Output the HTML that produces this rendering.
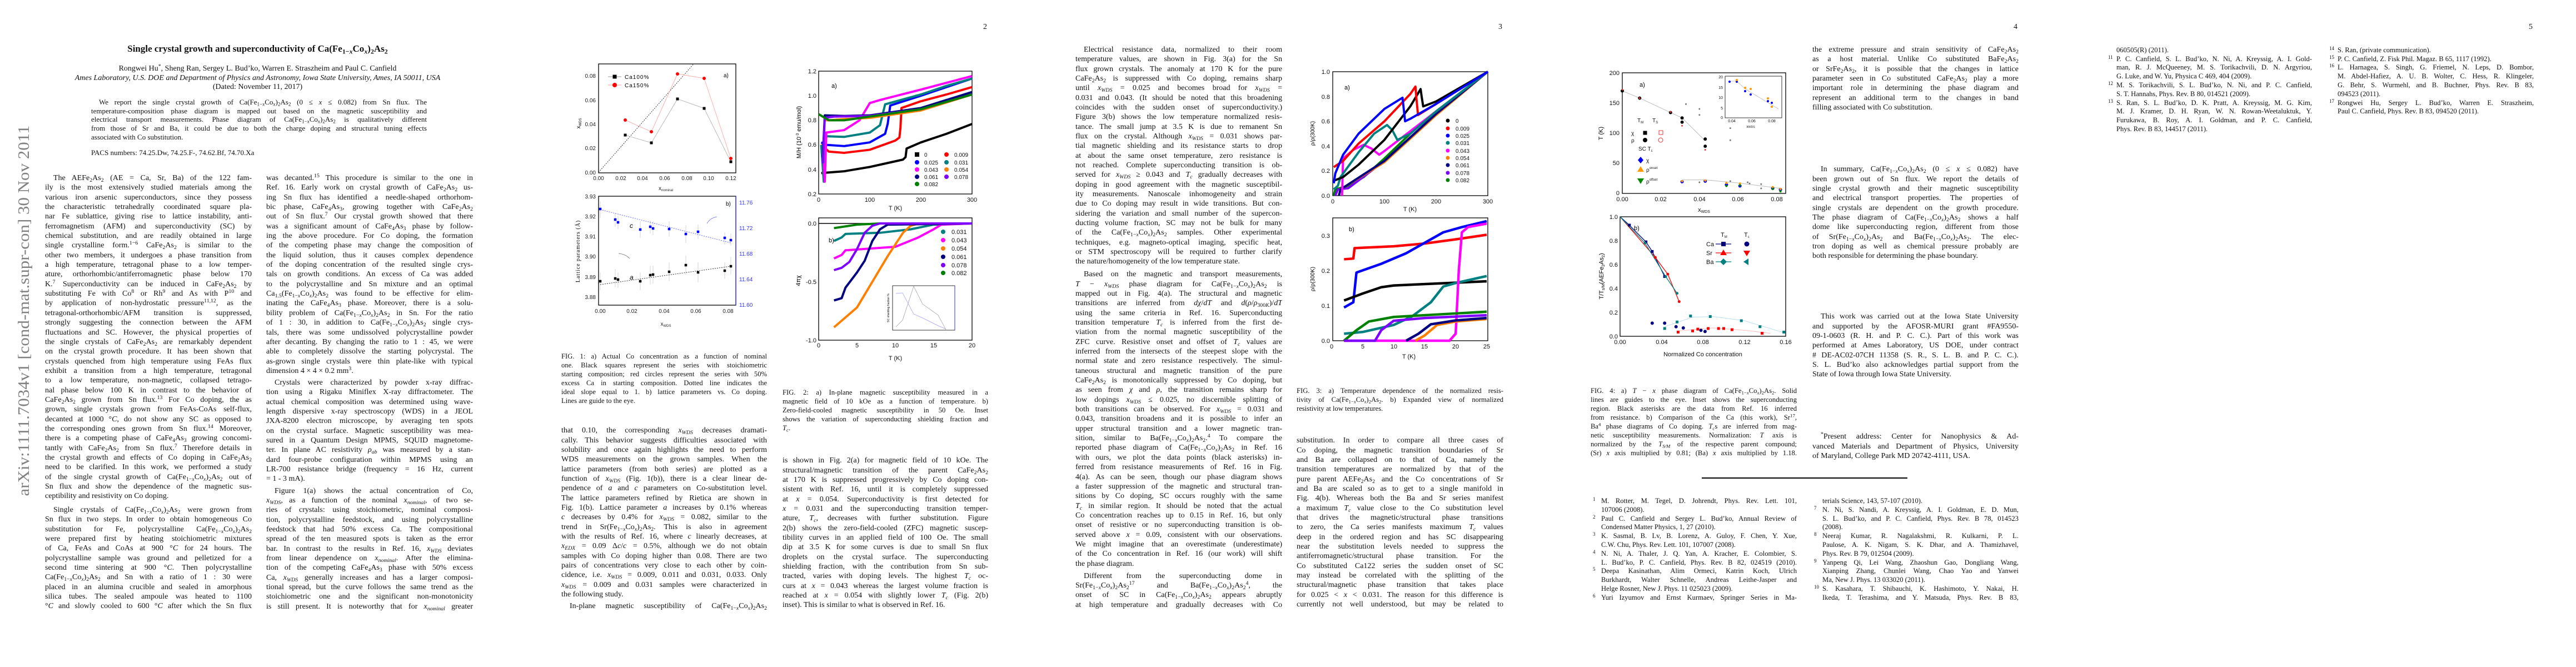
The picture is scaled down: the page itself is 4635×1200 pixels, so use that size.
<!DOCTYPE html>
<html><head><meta charset="utf-8">
<style>
html,body{margin:0;padding:0;background:#fff}
body{width:4635px;height:1200px;position:relative;overflow:hidden;font-family:"Liberation Serif",serif;color:#111}
.c{position:absolute;font-size:14px;line-height:17.35px}
.c div{height:17.35px;text-align:justify;text-align-last:justify;overflow:hidden;white-space:normal}
.c div.e{text-align-last:left}
.c div.i{text-indent:15px}
.cap{position:absolute;font-size:12.6px;line-height:16px}
.cap div{height:16px;text-align:justify;text-align-last:justify;overflow:hidden}
.cap div.e{text-align-last:left}
.ref{position:absolute;font-size:12.6px;line-height:15.8px}
.ref div{height:15.8px;text-align:justify;text-align-last:justify;position:relative;overflow:visible}
.ref div.e{text-align-last:left}
.ref .n{position:absolute;left:-15px;top:-3px;font-size:9px}
sub{font-size:70%;vertical-align:-0.3em;line-height:0}
sup{font-size:70%;vertical-align:0.5em;line-height:0}
.ctr{position:absolute;left:0;width:927px;text-align:center;white-space:nowrap}
.pn{position:absolute;font-size:14px}
svg{position:absolute;left:0;top:0}
svg text{font-family:"Liberation Sans",sans-serif}
</style></head><body>

<svg width="4635" height="1200" viewBox="0 0 4635 1200">
<!-- arXiv stamp -->
<text transform="translate(52,559) rotate(-90)" text-anchor="middle" textLength="667" lengthAdjust="spacingAndGlyphs" font-size="28" fill="#808080" style="font-family:'Liberation Serif',serif">arXiv:1111.7034v1  [cond-mat.supr-con]  30 Nov 2011</text>

<!-- ===== FIG 1a ===== -->
<rect x="1077" y="115" width="247" height="196" fill="none" stroke="#000" stroke-width="1.3"/>
<g font-size="10" text-anchor="end" fill="#222">
<text x="1072" y="140">0.08</text><text x="1072" y="184">0.06</text><text x="1072" y="227">0.04</text><text x="1072" y="270">0.02</text><text x="1072" y="314">0.00</text>
</g>
<g font-size="10" text-anchor="middle" fill="#222">
<text x="1077" y="324">0.00</text><text x="1117" y="324">0.02</text><text x="1156" y="324">0.04</text><text x="1196" y="324">0.06</text><text x="1236" y="324">0.08</text><text x="1275" y="324">0.10</text><text x="1315" y="324">0.12</text>
<text x="1198" y="342" font-size="10">x<tspan font-size="6" dy="2">nominal</tspan></text>
</g>
<text transform="translate(1044,222) rotate(-90)" font-size="10" text-anchor="middle">x<tspan font-size="6" dy="2">WDS</tspan></text>
<line x1="1077" y1="310" x2="1248" y2="115" stroke="#333" stroke-width="1" stroke-dasharray="2,2"/>
<polyline points="1125,243 1172,257 1219,178 1267,195 1315,291" fill="none" stroke="#aaa" stroke-width="0.8"/>
<polyline points="1125,216 1172,237 1219,133 1267,141 1315,285" fill="none" stroke="#f99" stroke-width="0.8"/>
<g stroke="#000" stroke-width="5" stroke-linecap="square"><path d="M1125,243h0M1172,257h0M1219,178h0M1267,195h0M1315,291h0"/></g>
<g stroke="#f00" stroke-width="6" stroke-linecap="round"><path d="M1125,216h0M1172,237h0M1219,133h0M1267,141h0M1315,285h0"/></g>
<line x1="1094" y1="138" x2="1118" y2="138" stroke="#999"/><path d="M1106,138h0" stroke="#000" stroke-width="7" stroke-linecap="square"/>
<line x1="1094" y1="153" x2="1118" y2="153" stroke="#f99"/><path d="M1106,153h0" stroke="#f00" stroke-width="8" stroke-linecap="round"/>
<text x="1124" y="142" font-size="10" letter-spacing="1">Ca100%</text><text x="1124" y="157" font-size="10" letter-spacing="1">Ca150%</text>
<text x="1302" y="139" font-size="10">a)</text>

<!-- ===== FIG 1b ===== -->
<rect x="1077" y="353" width="247" height="196" fill="none" stroke="#000" stroke-width="1.3"/>
<line x1="1324" y1="353" x2="1324" y2="549" stroke="#33f" stroke-width="1.3"/>
<g font-size="10" text-anchor="end" fill="#222">
<text x="1072" y="357">3.93</text><text x="1072" y="393">3.92</text><text x="1072" y="429">3.91</text><text x="1072" y="465">3.90</text><text x="1072" y="502">3.89</text><text x="1072" y="538">3.88</text>
</g>
<g font-size="10" fill="#33f">
<text x="1330" y="368">11.76</text><text x="1330" y="414">11.72</text><text x="1330" y="460">11.68</text><text x="1330" y="506">11.64</text><text x="1330" y="552">11.60</text>
</g>
<g font-size="10" text-anchor="middle" fill="#222">
<text x="1080" y="563">0.00</text><text x="1137" y="563">0.02</text><text x="1195" y="563">0.04</text><text x="1252" y="563">0.06</text><text x="1310" y="563">0.08</text>
<text x="1198" y="586">x<tspan font-size="6" dy="2">WDS</tspan></text>
</g>
<text transform="translate(1043,452) rotate(-90)" font-size="10" text-anchor="middle" letter-spacing="1" style="font-family:'Liberation Serif',serif">Lattice parameters (Å)</text>
<g stroke="#ccc" stroke-width="0.8">
<path d="M1080,362v30M1107,383v25M1112,388v24M1152,398v30M1170,396v24M1175,398v25M1204,398v28M1234,405v32M1256,404v26M1304,418v22M1315,420v22"/>
<path d="M1080,490v32M1107,484v33M1112,490v28M1152,490v32M1170,478v34M1175,478v32M1204,472v34M1234,460v34M1256,472v36M1304,472v30M1315,462v32"/>
</g>
<line x1="1080" y1="377" x2="1315" y2="437" stroke="#66f" stroke-width="1" stroke-dasharray="2,2"/>
<line x1="1080" y1="512" x2="1315" y2="479" stroke="#333" stroke-width="1" stroke-dasharray="2,2"/>
<g stroke="#00f" stroke-width="4.5" stroke-linecap="square"><path d="M1080,376h0M1107,395h0M1112,400h0M1152,413h0M1170,408h0M1175,411h0M1204,412h0M1234,421h0M1256,417h0M1304,428h0M1315,432h0"/></g>
<g stroke="#000" stroke-width="4.5" stroke-linecap="square"><path d="M1080,506h0M1107,501h0M1112,503h0M1152,506h0M1170,495h0M1175,494h0M1204,489h0M1234,477h0M1256,490h0M1304,487h0M1315,479h0"/></g>
<text x="1133" y="410" font-size="12" font-style="italic">c</text><text x="1133" y="503" font-size="12" font-style="italic">a</text>
<text x="1306" y="370" font-size="10">b)</text>
<path d="M1272,402 q6,-10 18,-12" fill="none" stroke="#66f" stroke-width="0.8"/>
<path d="M1133,465 q-8,-8 -20,-9" fill="none" stroke="#666" stroke-width="0.8"/>

<!-- ===== FIG 2a ===== -->
<rect x="1473" y="128" width="276" height="221" fill="none" stroke="#000" stroke-width="1.3"/>
<g font-size="11" text-anchor="end" fill="#111">
<text x="1469" y="132">1.2</text><text x="1469" y="176">1.0</text><text x="1469" y="220">0.8</text><text x="1469" y="264">0.6</text><text x="1469" y="309">0.4</text><text x="1469" y="353">0.2</text>
</g>
<g font-size="11" text-anchor="middle" fill="#111">
<text x="1473" y="363">0</text><text x="1565" y="363">100</text><text x="1657" y="363">200</text><text x="1749" y="363">300</text>
<text x="1611" y="378">T (K)</text>
</g>
<text transform="translate(1441,238) rotate(-90)" font-size="11" text-anchor="middle">M/H (10<tspan font-size="7" dy="-4">-3</tspan><tspan dy="4"> emu/mol)</tspan></text>
<text x="1496" y="158" font-size="11">a)</text>
<g transform="translate(1473,393.2) scale(0.92,-221)" fill="none" stroke-width="4" stroke-linejoin="round">
<polyline vector-effect="non-scaling-stroke" stroke="#000" points="5,0.37 50,0.385 100,0.42 165,0.48 170,0.5 172,0.57 200,0.62 250,0.69 300,0.77"/>
<polyline vector-effect="non-scaling-stroke" stroke="#f00" points="5,0.6 20,0.545 50,0.535 100,0.56 150,0.635 158,0.66 160,0.74 162,0.9 200,0.955 250,1.01 300,1.07"/>
<polyline vector-effect="non-scaling-stroke" stroke="#00f" points="5,0.62 15,0.6 50,0.59 100,0.62 130,0.69 135,0.77 140,0.92 200,1.0 250,1.07 300,1.14"/>
<polyline vector-effect="non-scaling-stroke" stroke="#008080" points="5,0.6 10,0.3 15,0.67 50,0.665 100,0.7 120,0.76 130,0.93 200,1.01 250,1.08 300,1.14"/>
<polyline vector-effect="non-scaling-stroke" stroke="#f0f" points="10,0.45 12,0.3 15,0.7 50,0.72 80,0.8 100,0.94 120,0.965 200,1.05 300,1.16"/>
<polyline vector-effect="non-scaling-stroke" stroke="#ff8000" points="10,0.8 20,0.8 50,0.81 100,0.82 150,0.85 200,0.88 300,1.01"/>
<polyline vector-effect="non-scaling-stroke" stroke="#000080" points="8,0.5 12,0.84 50,0.835 100,0.84 200,0.9 300,1.03"/>
<polyline vector-effect="non-scaling-stroke" stroke="#7f00ff" points="8,0.45 12,0.82 30,0.83 100,0.835 200,0.89 300,1.01"/>
<polyline vector-effect="non-scaling-stroke" stroke="#008000" points="0,0.85 20,0.8 50,0.8 100,0.83 200,0.89 300,1.01"/>
</g>
<g stroke-width="8">
<path d="M1650,278h0" stroke="#000" stroke-linecap="square"/><path d="M1703,278h0" stroke="#f00" stroke-linecap="round"/>
<path d="M1650,292h0" stroke="#00f" stroke-linecap="round"/><path d="M1703,292h0" stroke="#008080" stroke-linecap="round"/>
<path d="M1650,305h0" stroke="#f0f" stroke-linecap="round"/><path d="M1703,305h0" stroke="#ff8000" stroke-linecap="round"/>
<path d="M1650,318h0" stroke="#000080" stroke-linecap="round"/><path d="M1703,318h0" stroke="#7f00ff" stroke-linecap="round"/>
<path d="M1650,331h0" stroke="#008000" stroke-linecap="round"/>
</g>
<g font-size="10" fill="#111">
<text x="1663" y="282">0</text><text x="1717" y="282">0.009</text>
<text x="1663" y="296">0.025</text><text x="1717" y="296">0.031</text>
<text x="1663" y="309">0.043</text><text x="1717" y="309">0.054</text>
<text x="1663" y="322">0.061</text><text x="1717" y="322">0.078</text>
<text x="1663" y="335">0.082</text>
</g>

<!-- ===== FIG 2b ===== -->
<rect x="1473" y="392" width="276" height="220" fill="none" stroke="#000" stroke-width="1.3"/>
<line x1="1473" y1="402" x2="1749" y2="402" stroke="#000" stroke-width="1.5"/>
<g font-size="11" text-anchor="end" fill="#111">
<text x="1469" y="406">0.0</text><text x="1469" y="511">-0.5</text><text x="1469" y="616">-1.0</text>
</g>
<g font-size="11" text-anchor="middle" fill="#111">
<text x="1473" y="625">0</text><text x="1542" y="625">5</text><text x="1611" y="625">10</text><text x="1680" y="625">15</text><text x="1749" y="625">20</text>
<text x="1611" y="648">T (K)</text>
</g>
<text transform="translate(1440,505) rotate(-90)" font-size="11" text-anchor="middle">4πχ</text>
<text x="1491" y="436" font-size="11">b)</text>
<g transform="translate(1473,402) scale(13.8,-210)" fill="none" stroke-width="4" stroke-linejoin="round">
<polyline vector-effect="non-scaling-stroke" stroke="#008000" points="2,-0.04 3,-0.03 5,-0.01 8,0 20,0"/>
<polyline vector-effect="non-scaling-stroke" stroke="#008080" points="2,-0.15 3,-0.12 3.5,-0.09 8,-0.08 12,-0.05 15,-0.01 20,0"/>
<polyline vector-effect="non-scaling-stroke" stroke="#f0f" points="2,-0.3 3,-0.27 3.5,-0.23 10,-0.2 13,-0.12 15,-0.05 16,-0.01 20,0"/>
<polyline vector-effect="non-scaling-stroke" stroke="#ff8000" points="2,-0.89 5,-0.72 7,-0.5 9,-0.28 10,-0.18 11,-0.08 12,-0.02 13,0 20,0"/>
<polyline vector-effect="non-scaling-stroke" stroke="#000080" points="2,-0.66 3,-0.64 3.5,-0.55 5,-0.42 6,-0.32 7,-0.15 8,-0.05 9,-0.01 20,0"/>
<polyline vector-effect="non-scaling-stroke" stroke="#7f00ff" points="2,-0.4 3,-0.38 4,-0.33 5,-0.22 6,-0.08 7,-0.02 8,0 20,0"/>
</g>
<g stroke-width="8" stroke-linecap="round">
<path d="M1697,417h0" stroke="#008080"/><path d="M1697,432h0" stroke="#f0f"/><path d="M1697,447h0" stroke="#ff8000"/>
<path d="M1697,462h0" stroke="#000080"/><path d="M1697,477h0" stroke="#7f00ff"/><path d="M1697,491h0" stroke="#008000"/>
</g>
<g font-size="11" fill="#111">
<text x="1712" y="421">0.031</text><text x="1712" y="436">0.043</text><text x="1712" y="451">0.054</text><text x="1712" y="466">0.061</text><text x="1712" y="481">0.078</text><text x="1712" y="495">0.082</text>
</g>
<rect x="1606" y="514" width="112" height="80" fill="#fff" stroke="#000" stroke-width="0.8"/>
<line x1="1718" y1="514" x2="1718" y2="594" stroke="#33f" stroke-width="0.8"/>
<polyline points="1612,588 1624,576 1644,515 1660,547 1688,567 1702,593" fill="none" stroke="#999" stroke-width="0.7"/>
<polyline points="1612,528 1624,527 1644,565 1660,572 1688,586 1702,592" fill="none" stroke="#99f" stroke-width="0.7"/>
<text transform="translate(1600,554) rotate(-90)" font-size="5" text-anchor="middle">SC shielding fraction %</text>

<!-- ===== FIG 3a ===== -->
<rect x="2398" y="129" width="279" height="223" fill="none" stroke="#000" stroke-width="1.3"/>
<g font-size="11" text-anchor="end" fill="#111">
<text x="2393" y="133">1.0</text><text x="2393" y="178">0.8</text><text x="2393" y="222">0.6</text><text x="2393" y="267">0.4</text><text x="2393" y="311">0.2</text><text x="2393" y="356">0.0</text>
</g>
<g font-size="11" text-anchor="middle" fill="#111">
<text x="2398" y="366">0</text><text x="2491" y="366">100</text><text x="2584" y="366">200</text><text x="2677" y="366">300</text>
<text x="2537" y="380">T (K)</text>
</g>
<text transform="translate(2365,240) rotate(-90)" font-size="10" text-anchor="middle">ρ/ρ(300K)</text>
<text x="2419" y="161" font-size="11">a)</text>
<g transform="translate(2398,352) scale(0.93,-223)" fill="none" stroke-width="4" stroke-linejoin="round">
<polyline vector-effect="non-scaling-stroke" stroke="#008000" points="2,0 5,0.05 30,0.08 60,0.15 100,0.3 150,0.5 200,0.68 300,1"/>
<polyline vector-effect="non-scaling-stroke" stroke="#7f00ff" points="5,0 10,0.05 30,0.06 100,0.28 200,0.66 300,1"/>
<polyline vector-effect="non-scaling-stroke" stroke="#ff8000" points="12,0 15,0.05 100,0.27 200,0.65 300,1"/>
<polyline vector-effect="non-scaling-stroke" stroke="#000080" points="12,0 15,0.05 100,0.28 200,0.66 300,1"/>
<polyline vector-effect="non-scaling-stroke" stroke="#f0f" points="18,0 20,0.3 40,0.37 60,0.41 75,0.38 90,0.33 100,0.36 150,0.52 200,0.68 300,1"/>
<polyline vector-effect="non-scaling-stroke" stroke="#008080" points="2,0.05 10,0.08 15,0.15 50,0.35 80,0.5 105,0.57 115,0.53 125,0.45 150,0.5 200,0.68 300,1"/>
<polyline vector-effect="non-scaling-stroke" stroke="#000" points="2,0.12 20,0.15 50,0.25 100,0.45 150,0.72 170,0.86 172,0.8 175,0.72 200,0.76 250,0.88 300,1.0"/>
<polyline vector-effect="non-scaling-stroke" stroke="#f00" points="2,0.23 20,0.28 50,0.42 100,0.6 150,0.82 160,0.88 162,0.78 165,0.65 200,0.74 250,0.87 300,1"/>
<polyline vector-effect="non-scaling-stroke" stroke="#00f" points="2,0.1 5,0.18 20,0.33 50,0.5 100,0.7 135,0.79 140,0.6 150,0.62 200,0.74 250,0.87 300,1"/>
</g>
<g stroke-width="7" stroke-linecap="round">
<path d="M2605,217h0" stroke="#000"/><path d="M2605,231h0" stroke="#f00"/><path d="M2605,244h0" stroke="#00f"/><path d="M2605,257h0" stroke="#008080"/><path d="M2605,271h0" stroke="#f0f"/><path d="M2605,284h0" stroke="#ff8000"/><path d="M2605,297h0" stroke="#000080"/><path d="M2605,311h0" stroke="#7f00ff"/><path d="M2605,324h0" stroke="#008000"/>
</g>
<g font-size="10" fill="#111">
<text x="2619" y="221">0</text><text x="2619" y="235">0.009</text><text x="2619" y="248">0.025</text><text x="2619" y="261">0.031</text><text x="2619" y="275">0.043</text><text x="2619" y="288">0.054</text><text x="2619" y="301">0.061</text><text x="2619" y="315">0.078</text><text x="2619" y="328">0.082</text>
</g>

<!-- ===== FIG 3b ===== -->
<rect x="2398" y="392" width="279" height="221" fill="none" stroke="#000" stroke-width="1.3"/>
<g font-size="11" text-anchor="end" fill="#111">
<text x="2393" y="428">0.3</text><text x="2393" y="491">0.2</text><text x="2393" y="554">0.1</text><text x="2393" y="617">0.0</text>
</g>
<g font-size="11" text-anchor="middle" fill="#111">
<text x="2396" y="627">0</text><text x="2452" y="627">5</text><text x="2508" y="627">10</text><text x="2563" y="627">15</text><text x="2619" y="627">20</text><text x="2675" y="627">25</text>
<text x="2535" y="645">T (K)</text>
</g>
<text transform="translate(2365,502) rotate(-90)" font-size="10" text-anchor="middle">ρ/ρ(300K)</text>
<text x="2427" y="416" font-size="11">b)</text>
<g transform="translate(2396,613) scale(11.16,-629)" fill="none" stroke-width="4.5" stroke-linejoin="round">
<polyline vector-effect="non-scaling-stroke" stroke="#f00" points="2,0.233 3.5,0.235 3.7,0.265 10,0.27 15,0.278 20,0.29 25,0.303"/>
<polyline vector-effect="non-scaling-stroke" stroke="#00f" points="2,0.095 3,0.105 3.5,0.11 4,0.195 8,0.22 12,0.25 15,0.28 18,0.31 21,0.325 25,0.342"/>
<polyline vector-effect="non-scaling-stroke" stroke="#000" points="2,0.115 5,0.135 8,0.153 10,0.158 25,0.17"/>
<polyline vector-effect="non-scaling-stroke" stroke="#008080" points="2,0.02 5,0.025 10,0.045 13,0.07 16,0.11 18,0.155 20,0.165 25,0.185"/>
<polyline vector-effect="non-scaling-stroke" stroke="#f0f" points="2,0 19,0 20,0.02 20.5,0.2 21,0.31 22,0.325 25,0.335"/>
<polyline vector-effect="non-scaling-stroke" stroke="#008000" points="2,0 4,0.03 6,0.055 10,0.068 20,0.078 25,0.083"/>
<polyline vector-effect="non-scaling-stroke" stroke="#7f00ff" points="2,0 7,0 8,0.03 10,0.057 15,0.065 25,0.073"/>
<polyline vector-effect="non-scaling-stroke" stroke="#ff8000" points="13.5,0 15,0.015 17,0.045 20,0.055 25,0.062"/>
<polyline vector-effect="non-scaling-stroke" stroke="#000080" points="12,0 14,0.02 16,0.047 20,0.058 25,0.065"/>
</g>

<!-- ===== FIG 4a ===== -->
<rect x="2919" y="131" width="294" height="217" fill="none" stroke="#000" stroke-width="1.3"/>
<g font-size="11" text-anchor="end" fill="#111">
<text x="2914" y="135">200</text><text x="2914" y="189">150</text><text x="2914" y="243">100</text><text x="2914" y="297">50</text><text x="2914" y="351">0</text>
</g>
<g font-size="11" text-anchor="middle" fill="#111">
<text x="2919" y="362">0.00</text><text x="2988" y="362">0.02</text><text x="3058" y="362">0.04</text><text x="3127" y="362">0.06</text><text x="3197" y="362">0.08</text>
<text x="3066" y="381">x<tspan font-size="7" dy="2">WDS</tspan></text>
</g>
<text transform="translate(2884,240) rotate(-90)" font-size="11" text-anchor="middle">T (K)</text>
<text x="2950" y="156" font-size="11">a)</text>
<g transform="translate(2919,347.5) scale(3470,-1.0825)" fill="none">
<polyline vector-effect="non-scaling-stroke" stroke="#bbb" stroke-width="1" points="0,170 0.009,158 0.025,134 0.031,125 0.043,87"/>
<polyline vector-effect="non-scaling-stroke" stroke="#bbb" stroke-width="1" points="0.031,22 0.043,22 0.06,17 0.082,8"/>
<path vector-effect="non-scaling-stroke" stroke="#000" stroke-width="6" stroke-linecap="round" d="M0,170h0M0.009,158h0M0.025,134h0M0.031,125h0M0.031,118h0M0.043,90h0M0.043,78h0"/>
<path vector-effect="non-scaling-stroke" stroke="#e33" stroke-width="3" stroke-linecap="round" d="M0,172h0M0.009,158h0M0.025,135h0M0.031,112h0M0.043,72h0"/>
<path vector-effect="non-scaling-stroke" stroke="#00f" stroke-width="6" stroke-linecap="round" d="M0.031,19h0M0.043,20h0M0.054,14h0M0.061,12h0M0.078,8h0M0.082,6h0"/>
<path vector-effect="non-scaling-stroke" stroke="#f90" stroke-width="4" stroke-linecap="round" d="M0.031,20h0M0.043,21h0M0.054,17h0M0.061,16h0M0.078,10h0M0.082,7h0"/>
<path vector-effect="non-scaling-stroke" stroke="#080" stroke-width="4" stroke-linecap="round" d="M0.054,12h0M0.061,13h0M0.078,7h0M0.082,3h0"/>
<path vector-effect="non-scaling-stroke" stroke="#777" stroke-width="3" stroke-linecap="round" d="M0.033,148h0M0.040,140h0M0.040,130h0M0.056,108h0M0.056,88h0M0.04,18h0M0.056,20h0M0.065,18h0M0.072,15h0M0.072,8h0M0.066,16h0"/>
</g>
<g font-size="10" fill="#111">
<text x="2946" y="220">T<tspan font-size="6" dy="2">M</tspan></text><text x="2973" y="220">T<tspan font-size="6" dy="2">S</tspan></text>
<text x="2935" y="243">χ</text><text x="2935" y="256">ρ</text><text x="2948" y="271">SC T<tspan font-size="6" dy="2">c</tspan></text>
<text x="2962" y="292">χ</text><text x="2962" y="309">ρ<tspan font-size="6" dy="-5">onset</tspan></text><text x="2962" y="330">ρ<tspan font-size="6" dy="-5">offset</tspan></text>
</g>
<path d="M2960,239h0" stroke="#000" stroke-width="7" stroke-linecap="square"/><rect x="2985" y="235" width="7" height="7" fill="none" stroke="#e33"/>
<path d="M2960,252h0" stroke="#000" stroke-width="8" stroke-linecap="round"/><circle cx="2988" cy="252" r="4" fill="none" stroke="#e33"/>
<path d="M2952,282 l5,6 -5,6 -5,-6z" fill="#00f"/><path d="M2952,299 l6,10 -12,0z" fill="#f90"/><path d="M2952,331 l6,-10 -12,0z" fill="#080"/>
<rect x="3104" y="137" width="102" height="75" fill="#fff" stroke="#000" stroke-width="0.8"/>
<polyline points="3112,146 3125,146 3140,160 3150,166 3170,178 3200,196" fill="none" stroke="#bbb" stroke-width="0.8"/>
<g stroke-width="4" stroke-linecap="round"><path d="M3112,147h0M3125,147h0M3140,164h0M3150,170h0M3181,182h0M3188,185h0" stroke="#00f"/><path d="M3125,144h0M3140,158h0M3150,160h0M3181,177h0M3188,192h0" stroke="#f90"/></g>
<g font-size="7" fill="#111"><text x="3100" y="141" text-anchor="end">20</text><text x="3100" y="160" text-anchor="end">15</text><text x="3100" y="178" text-anchor="end">10</text><text x="3100" y="197" text-anchor="end">5</text><text x="3100" y="214" text-anchor="end">0</text>
<text x="3116" y="220" text-anchor="middle">0.04</text><text x="3152" y="220" text-anchor="middle">0.06</text><text x="3188" y="220" text-anchor="middle">0.08</text><text x="3150" y="230" text-anchor="middle">x<tspan font-size="5">WDS</tspan></text></g>

<!-- ===== FIG 4b ===== -->
<rect x="2915" y="390" width="298" height="215" fill="none" stroke="#000" stroke-width="1.3"/>
<g font-size="11" text-anchor="end" fill="#111">
<text x="2911" y="394">1.0</text><text x="2911" y="437">0.8</text><text x="2911" y="480">0.6</text><text x="2911" y="523">0.4</text><text x="2911" y="566">0.2</text><text x="2911" y="609">0.0</text>
</g>
<g font-size="11" text-anchor="middle" fill="#111">
<text x="2915" y="619">0.00</text><text x="2990" y="619">0.04</text><text x="3064" y="619">0.08</text><text x="3139" y="619">0.12</text><text x="3213" y="619">0.16</text>
<text x="3064" y="641">Normalized Co concentration</text>
</g>
<text transform="translate(2885,497) rotate(-90)" font-size="11" text-anchor="middle">T/T<tspan font-size="7" dy="2">s/M</tspan><tspan dy="-2">(AEFe</tspan><tspan font-size="7" dy="2">2</tspan><tspan dy="-2">As</tspan><tspan font-size="7" dy="2">2</tspan><tspan dy="-2">)</tspan></text>
<text x="2940" y="414" font-size="11">b)</text>
<g transform="translate(2915,605) scale(1865,-215)" fill="none">
<polyline vector-effect="non-scaling-stroke" stroke="#bde" stroke-width="1" points="0.043,0.08 0.07,0.16 0.09,0.165 0.12,0.13 0.158,0.03"/>
<polyline vector-effect="non-scaling-stroke" stroke="#fbb" stroke-width="1" points="0.056,0.045 0.09,0.07 0.12,0.05 0.145,0.025"/>
<polyline vector-effect="non-scaling-stroke" stroke="#000080" stroke-width="1.3" points="0,1 0.009,0.93 0.025,0.79 0.031,0.71 0.043,0.5"/>
<polyline vector-effect="non-scaling-stroke" stroke="#f00" stroke-width="1.3" points="0,1 0.034,0.66 0.046,0.52 0.057,0.29"/>
<polyline vector-effect="non-scaling-stroke" stroke="#008080" stroke-width="1.3" points="0,1 0.024,0.78 0.044,0.5 0.055,0.36"/>
<path vector-effect="non-scaling-stroke" stroke="#000080" stroke-width="5" stroke-linecap="square" d="M0.009,0.93h0M0.025,0.79h0M0.031,0.71h0M0.043,0.5h0"/>
<path vector-effect="non-scaling-stroke" stroke="#f00" stroke-width="5" stroke-linecap="round" d="M0.034,0.66h0M0.046,0.52h0M0.057,0.29h0"/>
<path vector-effect="non-scaling-stroke" stroke="#008080" stroke-width="5" stroke-linecap="round" d="M0.024,0.78h0M0.044,0.5h0M0.055,0.36h0"/>
<path vector-effect="non-scaling-stroke" stroke="#000080" stroke-width="6" stroke-linecap="round" d="M0.031,0.11h0M0.043,0.11h0M0.054,0.08h0M0.061,0.07h0M0.078,0.05h0M0.082,0.04h0"/>
<path vector-effect="non-scaling-stroke" stroke="#f00" stroke-width="5" stroke-linecap="square" d="M0.056,0.035h0M0.07,0.045h0M0.075,0.06h0M0.085,0.065h0M0.095,0.065h0M0.1,0.065h0M0.108,0.055h0M0.137,0.025h0"/>
<path vector-effect="non-scaling-stroke" stroke="#008080" stroke-width="5" stroke-linecap="square" d="M0.043,0.065h0M0.055,0.12h0M0.068,0.17h0M0.087,0.165h0M0.117,0.13h0M0.135,0.08h0M0.158,0.035h0"/>
</g>
<g font-size="11" fill="#111">
<text x="3096" y="426">T<tspan font-size="6" dy="2">M</tspan></text><text x="3138" y="426">T<tspan font-size="6" dy="2">c</tspan></text>
<text x="3070" y="443">Ca</text><text x="3070" y="459">Sr</text><text x="3070" y="475">Ba</text>
</g>
<line x1="3087" y1="439" x2="3115" y2="439" stroke="#000080" stroke-width="1.3"/><path d="M3101,439h0" stroke="#000080" stroke-width="8" stroke-linecap="square"/><path d="M3143,439h0" stroke="#000080" stroke-width="9" stroke-linecap="round"/>
<line x1="3087" y1="455" x2="3115" y2="455" stroke="#f00" stroke-width="1.3"/><path d="M3101,449 l6,10 -12,0z" fill="#f00"/><path d="M3143,461 l6,-10 -12,0z" fill="#f00"/>
<line x1="3087" y1="471" x2="3115" y2="471" stroke="#008080" stroke-width="1.3"/><path d="M3101,465 l6,6 -6,6 -6,-6z" fill="#008080"/><path d="M3137,471 l9,-6 0,12z" fill="#008080"/>

<!-- footnote rule -->
<line x1="3062" y1="860" x2="3432" y2="860" stroke="#000" stroke-width="2"/>
</svg>

<!-- ===== PAGE 1 ===== -->
<div class="ctr" style="top:78px;font-size:17px;font-weight:bold">Single crystal growth and superconductivity of Ca(Fe<sub>1−<i>x</i></sub>Co<sub><i>x</i></sub>)<sub>2</sub>As<sub>2</sub></div>
<div class="ctr" style="top:116px;font-size:14px">Rongwei Hu<sup>*</sup>, Sheng Ran, Sergey L. Bud’ko, Warren E. Straszheim and Paul C. Canfield</div>
<div class="ctr" style="top:133px;font-size:14px;font-style:italic">Ames Laboratory, U.S. DOE and Department of Physics and Astronomy, Iowa State University, Ames, IA 50011, USA</div>
<div class="ctr" style="top:149px;font-size:14px">(Dated: November 11, 2017)</div>
<div class="cap" style="left:164px;top:176px;width:604px;font-size:13px;line-height:15.7px">
<div style="text-indent:14px;height:15.7px">We report the single crystal growth of Ca(Fe<sub>1−<i>x</i></sub>Co<sub><i>x</i></sub>)<sub>2</sub>As<sub>2</sub> (0 ≤ <i>x</i> ≤ 0.082) from Sn flux. The</div>
<div style="height:15.7px">temperature-composition phase diagram is mapped out based on the magnetic susceptibility and</div>
<div style="height:15.7px">electrical transport measurements. Phase diagram of Ca(Fe<sub>1−<i>x</i></sub>Co<sub><i>x</i></sub>)<sub>2</sub>As<sub>2</sub> is qualitatively different</div>
<div style="height:15.7px">from those of Sr and Ba, it could be due to both the charge doping and structural tuning effects</div>
<div class="e" style="height:15.7px">associated with Co substitution.</div>
</div>
<div style="position:absolute;left:164px;top:267px;font-size:13px">PACS numbers: 74.25.Dw, 74.25.F-, 74.62.Bf, 74.70.Xa</div>

<div class="c" style="left:81px;top:312px;width:372px">
<div class="i">The AEFe<sub>2</sub>As<sub>2</sub> (AE = Ca, Sr, Ba) of the 122 fam-</div>
<div>ily is the most extensively studied materials among the</div>
<div>various iron arsenic superconductors, since they possess</div>
<div>the characteristic tetrahedrally coordinated square pla-</div>
<div>nar Fe sublattice, giving rise to lattice instability, anti-</div>
<div>ferromagnetism (AFM) and superconductivity (SC) by</div>
<div>chemical substitution, and are readily obtained in large</div>
<div>single crystalline form.<sup>1−6</sup> CaFe<sub>2</sub>As<sub>2</sub> is similar to the</div>
<div>other two members, it undergoes a phase transition from</div>
<div>a high temperature, tetragonal phase to a low temper-</div>
<div>ature, orthorhombic/antiferromagnetic phase below 170</div>
<div>K.<sup>7</sup> Superconductivity can be induced in CaFe<sub>2</sub>As<sub>2</sub> by</div>
<div>substituting Fe with Co<sup>8</sup> or Rh<sup>9</sup> and As with P<sup>10</sup> and</div>
<div>by application of non-hydrostatic pressure<sup>11,12</sup>, as the</div>
<div>tetragonal-orthorhombic/AFM transition is suppressed,</div>
<div>strongly suggesting the connection between the AFM</div>
<div>fluctuations and SC. However, the physical properties of</div>
<div>the single crystals of CaFe<sub>2</sub>As<sub>2</sub> are remarkably dependent</div>
<div>on the crystal growth procedure. It has been shown that</div>
<div>crystals quenched from high temperature using FeAs flux</div>
<div>exhibit a transition from a high temperature, tetragonal</div>
<div>to a low temperature, non-magnetic, collapsed tetrago-</div>
<div>nal phase below 100 K in contrast to the behavior of</div>
<div>CaFe<sub>2</sub>As<sub>2</sub> grown from Sn flux.<sup>13</sup> For Co doping, the as</div>
<div>grown, single crystals grown from FeAs-CoAs self-flux,</div>
<div>decanted at 1000 °<i>C</i>, do not show any SC as opposed to</div>
<div>the corresponding ones grown from Sn flux.<sup>14</sup> Moreover,</div>
<div>there is a competing phase of CaFe<sub>4</sub>As<sub>3</sub> growing concomi-</div>
<div>tantly with CaFe<sub>2</sub>As<sub>2</sub> from Sn flux.<sup>7</sup> Therefore details in</div>
<div>the crystal growth and effects of Co doping in CaFe<sub>2</sub>As<sub>2</sub></div>
<div>need to be clarified. In this work, we performed a study</div>
<div>of the single crystal growth of Ca(Fe<sub>1−<i>x</i></sub>Co<sub><i>x</i></sub>)<sub>2</sub>As<sub>2</sub> out of</div>
<div>Sn flux and show the dependence of the magnetic sus-</div>
<div class="e">ceptibility and resistivity on Co doping.</div>
</div>
<div class="c" style="left:81px;top:909px;width:372px">
<div class="i">Single crystals of Ca(Fe<sub>1−<i>x</i></sub>Co<sub><i>x</i></sub>)<sub>2</sub>As<sub>2</sub> were grown from</div>
<div>Sn flux in two steps. In order to obtain homogeneous Co</div>
<div>substitution for Fe, polycrystalline Ca(Fe<sub>1−<i>x</i></sub>Co<sub><i>x</i></sub>)<sub>2</sub>As<sub>2</sub></div>
<div>were prepared first by heating stoichiometric mixtures</div>
<div>of Ca, FeAs and CoAs at 900 °<i>C</i> for 24 hours. The</div>
<div>polycrystalline sample was ground and pelletized for a</div>
<div>second time sintering at 900 °<i>C</i>. Then polycrystalline</div>
<div>Ca(Fe<sub>1−<i>x</i></sub>Co<sub><i>x</i></sub>)<sub>2</sub>As<sub>2</sub> and Sn with a ratio of 1 : 30 were</div>
<div>placed in an alumina crucible and sealed in amorphous</div>
<div>silica tubes. The sealed ampoule was heated to 1100</div>
<div>°<i>C</i> and slowly cooled to 600 °<i>C</i> after which the Sn flux</div>
</div>

<div class="c" style="left:479px;top:312px;width:372px">
<div>was decanted.<sup>15</sup> This procedure is similar to the one in</div>
<div>Ref. 16. Early work on crystal growth of CaFe<sub>2</sub>As<sub>2</sub> us-</div>
<div>ing Sn flux has identified a needle-shaped orthorhom-</div>
<div>bic phase, CaFe<sub>4</sub>As<sub>3</sub>, growing together with CaFe<sub>2</sub>As<sub>2</sub></div>
<div>out of Sn flux.<sup>7</sup> Our crystal growth showed that there</div>
<div>was a significant amount of CaFe<sub>4</sub>As<sub>3</sub> phase by follow-</div>
<div>ing the above procedure. For Co doping, the formation</div>
<div>of the competing phase may change the composition of</div>
<div>the liquid solution, thus it causes complex dependence</div>
<div>of the doping concentration of the resulted single crys-</div>
<div>tals on growth conditions. An excess of Ca was added</div>
<div>to the polycrystalline and Sn mixture and an optimal</div>
<div>Ca<sub>1.5</sub>(Fe<sub>1−<i>x</i></sub>Co<sub><i>x</i></sub>)<sub>2</sub>As<sub>2</sub> was found to be effective for elim-</div>
<div>inating the CaFe<sub>4</sub>As<sub>3</sub> phase. Moreover, there is a solu-</div>
<div>bility problem of Ca(Fe<sub>1−<i>x</i></sub>Co<sub><i>x</i></sub>)<sub>2</sub>As<sub>2</sub> in Sn. For the ratio</div>
<div>of 1 : 30, in addition to Ca(Fe<sub>1−<i>x</i></sub>Co<sub><i>x</i></sub>)<sub>2</sub>As<sub>2</sub> single crys-</div>
<div>tals, there was some undissolved polycrystalline powder</div>
<div>after decanting. By changing the ratio to 1 : 45, we were</div>
<div>able to completely dissolve the starting polycrystal. The</div>
<div>as-grown single crystals were thin plate-like with typical</div>
<div class="e">dimension 4 × 4 × 0.2 mm<sup>3</sup>.</div>
</div>
<div class="c" style="left:479px;top:680px;width:372px">
<div class="i">Crystals were characterized by powder x-ray diffrac-</div>
<div>tion using a Rigaku Miniflex X-ray diffractometer. The</div>
<div>actual chemical composition was determined using wave-</div>
<div>length dispersive x-ray spectroscopy (WDS) in a JEOL</div>
<div>JXA-8200 electron microscope, by averaging ten spots</div>
<div>on the crystal surface. Magnetic susceptibility was mea-</div>
<div>sured in a Quantum Design MPMS, SQUID magnetome-</div>
<div>ter. In plane AC resistivity <i>ρ<sub>ab</sub></i> was measured by a stan-</div>
<div>dard four-probe configuration within MPMS using an</div>
<div>LR-700 resistance bridge (frequency = 16 Hz, current</div>
<div class="e">= 1 - 3 mA).</div>
</div>
<div class="c" style="left:479px;top:874.5px;width:372px">
<div class="i">Figure 1(a) shows the actual concentration of Co,</div>
<div><i>x<sub>WDS</sub></i>, as a function of the nominal <i>x<sub>nominal</sub></i>, of two se-</div>
<div>ries of crystals: using stoichiometric, nominal composi-</div>
<div>tion, polycrystalline feedstock, and using polycrystalline</div>
<div>feedstock that had 50% excess Ca. The compositional</div>
<div>spread of the ten measured spots is taken as the error</div>
<div>bar. In contrast to the results in Ref. 16, <i>x<sub>WDS</sub></i> deviates</div>
<div>from linear dependence on <i>x<sub>nominal</sub></i>. After the elimina-</div>
<div>tion of the competing CaFe<sub>4</sub>As<sub>3</sub> phase with 50% excess</div>
<div>Ca, <i>x<sub>WDS</sub></i> generally increases and has a larger composi-</div>
<div>tional spread, but the curve follows the same trend as the</div>
<div>stoichiometric one and the significant non-monotonicity</div>
<div>is still present. It is noteworthy that for <i>x<sub>nominal</sub></i> greater</div>
</div>

<!-- ===== PAGE 2 ===== -->
<div class="pn" style="left:1769px;top:41px">2</div>
<div class="cap" style="left:1010px;top:633px;width:370px">
<div>FIG. 1: a) Actual Co concentration as a function of nominal</div>
<div>one. Black squares represent the series with stoichiometric</div>
<div>starting composition; red circles represent the series with 50%</div>
<div>excess Ca in starting composition. Dotted line indicates the</div>
<div>ideal slope equal to 1. b) lattice parameters vs. Co doping.</div>
<div class="e">Lines are guide to the eye.</div>
</div>
<div class="c" style="left:1010px;top:766.3px;width:370px">
<div>that 0.10, the corresponding <i>x<sub>WDS</sub></i> decreases dramati-</div>
<div>cally. This behavior suggests difficulties associated with</div>
<div>solubility and once again highlights the need to perform</div>
<div>WDS measurements on the grown samples. When the</div>
<div>lattice parameters (from both series) are plotted as a</div>
<div>function of <i>x<sub>WDS</sub></i> (Fig. 1(b)), there is a clear linear de-</div>
<div>pendence of <i>a</i> and <i>c</i> parameters on Co-substitution level.</div>
<div>The lattice parameters refined by Rietica are shown in</div>
<div>Fig. 1(b). Lattice parameter <i>a</i> increases by 0.1% whereas</div>
<div><i>c</i> decreases by 0.4% for <i>x<sub>WDS</sub></i> = 0.082, similar to the</div>
<div>trend in Sr(Fe<sub>1−<i>x</i></sub>Co<sub><i>x</i></sub>)<sub>2</sub>As<sub>2</sub>. This is also in agreement</div>
<div>with the results of Ref. 16, where <i>c</i> linearly decreases, at</div>
<div><i>x<sub>EDX</sub></i> = 0.09 Δ<i>c</i>/<i>c</i> = 0.5%, although we do not obtain</div>
<div>samples with Co doping higher than 0.08. There are two</div>
<div>pairs of concentrations very close to each other by coin-</div>
<div>cidence, i.e. <i>x<sub>WDS</sub></i> = 0.009, 0.011 and 0.031, 0.033. Only</div>
<div><i>x<sub>WDS</sub></i> = 0.009 and 0.031 samples were characterized in</div>
<div class="e">the following study.</div>
</div>
<div class="c" style="left:1010px;top:1082.3px;width:370px">
<div class="i">In-plane magnetic susceptibility of Ca(Fe<sub>1−<i>x</i></sub>Co<sub><i>x</i></sub>)<sub>2</sub>As<sub>2</sub></div>
</div>
<div class="cap" style="left:1408px;top:698px;width:370px">
<div>FIG. 2: a) In-plane magnetic susceptibility measured in a</div>
<div>magnetic field of 10 kOe as a function of temperature. b)</div>
<div>Zero-field-cooled magnetic susceptibility in 50 Oe. Inset</div>
<div>shows the variation of superconducting shielding fraction and</div>
<div class="e"><i>T<sub>c</sub></i>.</div>
</div>
<div class="c" style="left:1408px;top:820.3px;width:370px">
<div>is shown in Fig. 2(a) for magnetic field of 10 kOe. The</div>
<div>structural/magnetic transition of the parent CaFe<sub>2</sub>As<sub>2</sub></div>
<div>at 170 K is suppressed progressively by Co doping con-</div>
<div>sistent with Ref. 16, until it is completely suppressed</div>
<div>at <i>x</i> = 0.054. Superconductivity is first detected for</div>
<div><i>x</i> = 0.031 and the superconducting transition temper-</div>
<div>ature, <i>T<sub>c</sub></i>, decreases with further substitution. Figure</div>
<div>2(b) shows the zero-field-cooled (ZFC) magnetic suscep-</div>
<div>tibility curves in an applied field of 100 Oe. The small</div>
<div>dip at 3.5 K for some curves is due to small Sn flux</div>
<div>droplets on the crystal surface. The superconducting</div>
<div>shielding fraction, with the contribution from Sn sub-</div>
<div>tracted, varies with doping levels. The highest <i>T<sub>c</sub></i> oc-</div>
<div>curs at <i>x</i> = 0.043 whereas the largest volume fraction is</div>
<div>reached at <i>x</i> = 0.054 with slightly lower <i>T<sub>c</sub></i> (Fig. 2(b)</div>
<div class="e">inset). This is similar to what is observed in Ref. 16.</div>
</div>

<!-- ===== PAGE 3 ===== -->
<div class="pn" style="left:2696px;top:41px">3</div>
<div class="c" style="left:1935px;top:80.9px;width:372px">
<div class="i">Electrical resistance data, normalized to their room</div>
<div>temperature values, are shown in Fig. 3(a) for the Sn</div>
<div>flux grown crystals. The anomaly at 170 K for the pure</div>
<div>CaFe<sub>2</sub>As<sub>2</sub> is suppressed with Co doping, remains sharp</div>
<div>until <i>x<sub>WDS</sub></i> = 0.025 and becomes broad for <i>x<sub>WDS</sub></i> =</div>
<div>0.031 and 0.043. (It should be noted that this broadening</div>
<div>coincides with the sudden onset of superconductivity.)</div>
<div>Figure 3(b) shows the low temperature normalized resis-</div>
<div>tance. The small jump at 3.5 K is due to remanent Sn</div>
<div>flux on the crystal. Although <i>x<sub>WDS</sub></i> = 0.031 shows par-</div>
<div>tial magnetic shielding and its resistance starts to drop</div>
<div>at about the same onset temperature, zero resistance is</div>
<div>not reached. Complete superconducting transition is ob-</div>
<div>served for <i>x<sub>WDS</sub></i> ≥ 0.043 and <i>T<sub>c</sub></i> gradually decreases with</div>
<div>doping in good agreement with the magnetic susceptibil-</div>
<div>ity measurements. Nanoscale inhomogeneity and strain</div>
<div>due to Co doping may result in wide transitions. But con-</div>
<div>sidering the variation and small number of the supercon-</div>
<div>ducting volume fraction, SC may not be bulk for many</div>
<div>of the Ca(Fe<sub>1−<i>x</i></sub>Co<sub><i>x</i></sub>)<sub>2</sub>As<sub>2</sub> samples. Other experimental</div>
<div>techniques, e.g. magneto-optical imaging, specific heat,</div>
<div>or STM spectroscopy will be required to further clarify</div>
<div class="e">the nature/homogeneity of the low temperature state.</div>
</div>
<div class="c" style="left:1935px;top:485.3px;width:372px">
<div class="i">Based on the magnetic and transport measurements,</div>
<div><i>T</i> − <i>x<sub>WDS</sub></i> phase diagram for Ca(Fe<sub>1−<i>x</i></sub>Co<sub><i>x</i></sub>)<sub>2</sub>As<sub>2</sub> is</div>
<div>mapped out in Fig. 4(a). The structural and magnetic</div>
<div>transitions are inferred from <i>dχ</i>/<i>dT</i> and <i>d</i>(<i>ρ</i>/<i>ρ</i><sub>300<i>K</i></sub>)/<i>dT</i></div>
<div>using the same criteria in Ref. 16. Superconducting</div>
<div>transition temperature <i>T<sub>c</sub></i> is inferred from the first de-</div>
<div>viation from the normal magnetic susceptibility of the</div>
<div>ZFC curve. Resistive onset and offset of <i>T<sub>c</sub></i> values are</div>
<div>inferred from the intersects of the steepest slope with the</div>
<div>normal state and zero resistance respectively. The simul-</div>
<div>taneous structural and magnetic transition of the pure</div>
<div>CaFe<sub>2</sub>As<sub>2</sub> is monotonically suppressed by Co doping, but</div>
<div>as seen from <i>χ</i> and <i>ρ</i>, the transition remains sharp for</div>
<div>low dopings <i>x<sub>WDS</sub></i> ≤ 0.025, no discernible splitting of</div>
<div>both transitions can be observed. For <i>x<sub>WDS</sub></i> = 0.031 and</div>
<div>0.043, transition broadens and it is possible to infer an</div>
<div>upper structural transition and a lower magnetic tran-</div>
<div>sition, similar to Ba(Fe<sub>1−<i>x</i></sub>Co<sub><i>x</i></sub>)<sub>2</sub>As<sub>2</sub>.<sup>4</sup> To compare the</div>
<div>reported phase diagram of Ca(Fe<sub>1−<i>x</i></sub>Co<sub><i>x</i></sub>)<sub>2</sub>As<sub>2</sub> in Ref. 16</div>
<div>with ours, we plot the data points (black asterisks) in-</div>
<div>ferred from resistance measurements of Ref. 16 in Fig.</div>
<div>4(a). As can be seen, though our phase diagram shows</div>
<div>a faster suppression of the magnetic and structural tran-</div>
<div>sitions by Co doping, SC occurs roughly with the same</div>
<div><i>T<sub>c</sub></i> in similar region. It should be noted that the actual</div>
<div>Co concentration reaches up to 0.15 in Ref. 16, but only</div>
<div>onset of resistive or no superconducting transition is ob-</div>
<div>served above <i>x</i> = 0.09, consistent with our observations.</div>
<div>We might imagine that an overestimate (underestimate)</div>
<div>of the Co concentration in Ref. 16 (our work) will shift</div>
<div class="e">the phase diagram.</div>
</div>
<div class="c" style="left:1935px;top:1027.6px;width:372px">
<div class="i">Different from the superconducting dome in</div>
<div>Sr(Fe<sub>1−<i>x</i></sub>Co<sub><i>x</i></sub>)<sub>2</sub>As<sub>2</sub><sup>17</sup> and Ba(Fe<sub>1−<i>x</i></sub>Co<sub><i>x</i></sub>)<sub>2</sub>As<sub>2</sub><sup>4</sup>, the</div>
<div>onset of SC in Ca(Fe<sub>1−<i>x</i></sub>Co<sub><i>x</i></sub>)<sub>2</sub>As<sub>2</sub> appears abruptly</div>
<div>at high temperature and gradually decreases with Co</div>
</div>
<div class="cap" style="left:2333px;top:695px;width:372px">
<div>FIG. 3: a) Temperature dependence of the normalized resis-</div>
<div>tivity of Ca(Fe<sub>1−<i>x</i></sub>Co<sub><i>x</i></sub>)<sub>2</sub>As<sub>2</sub>. b) Expanded view of normalized</div>
<div class="e">resistivity at low temperatures.</div>
</div>
<div class="c" style="left:2333px;top:784.3px;width:372px">
<div>substitution. In order to compare all three cases of</div>
<div>Co doping, the magnetic transition boundaries of Sr</div>
<div>and Ba are collapsed on to that of Ca, namely the</div>
<div>transition temperatures are normalized by that of the</div>
<div>pure parent AEFe<sub>2</sub>As<sub>2</sub> and the Co concentrations of Sr</div>
<div>and Ba are scaled so as to get to a single manifold in</div>
<div>Fig. 4(b). Whereas both the Ba and Sr series manifest</div>
<div>a maximum <i>T<sub>c</sub></i> value close to the Co substitution level</div>
<div>that drives the magnetic/structural phase transitions</div>
<div>to zero, the Ca series manifests maximum <i>T<sub>c</sub></i> values</div>
<div>deep in the ordered region and has SC disappearing</div>
<div>near the substitution levels needed to suppress the</div>
<div>antiferromagnetic/structural phase transition. For the</div>
<div>Co substituted Ca122 series the sudden onset of SC</div>
<div>may instead be correlated with the splitting of the</div>
<div>structural/magnetic phase transition that takes place</div>
<div>for 0.025 &lt; <i>x</i> &lt; 0.031. The reason for this difference is</div>
<div>currently not well understood, but may be related to</div>
</div>

<!-- ===== PAGE 4 ===== -->
<div class="pn" style="left:3623px;top:41px">4</div>
<div class="cap" style="left:2862px;top:695px;width:371px">
<div>FIG. 4: a) <i>T</i> − <i>x</i> phase diagram of Ca(Fe<sub>1−<i>x</i></sub>Co<sub><i>x</i></sub>)<sub>2</sub>As<sub>2</sub>. Solid</div>
<div>lines are guides to the eye. Inset shows the superconducting</div>
<div>region. Black asterisks are the data from Ref. 16 inferred</div>
<div>from resistance. b) Comparison of the Ca (this work), Sr<sup>17</sup>,</div>
<div>Ba<sup>4</sup> phase diagrams of Co doping. <i>T<sub>c</sub></i>s are inferred from mag-</div>
<div>netic susceptibility measurements. Normalization: <i>T</i> axis is</div>
<div>normalized by the <i>T<sub>S/M</sub></i> of the respective parent compound;</div>
<div>(Sr) <i>x</i> axis multiplied by 0.81; (Ba) <i>x</i> axis multiplied by 1.18.</div>
</div>
<div class="ref" style="left:2881px;top:894px;width:352px">
<div><span class="n">1</span>M. Rotter, M. Tegel, D. Johrendt, Phys. Rev. Lett. 101,</div>
<div class="e">107006 (2008).</div>
<div><span class="n">2</span>Paul C. Canfield and Sergey L. Bud’ko, Annual Review of</div>
<div class="e">Condensed Matter Physics, 1, 27 (2010).</div>
<div><span class="n">3</span>K. Sasmal, B. Lv, B. Lorenz, A. Guloy, F. Chen, Y. Xue,</div>
<div class="e">C.W. Chu, Phys. Rev. Lett. 101, 107007 (2008).</div>
<div><span class="n">4</span>N. Ni, A. Thaler, J. Q. Yan, A. Kracher, E. Colombier, S.</div>
<div>L. Bud’ko, P. C. Canfield, Phys. Rev. B 82, 024519 (2010).</div>
<div><span class="n">5</span>Deepa Kasinathan, Alim Ormeci, Katrin Koch, Ulrich</div>
<div>Burkhardt, Walter Schnelle, Andreas Leithe-Jasper and</div>
<div class="e">Helge Rosner, New J. Phys. 11 025023 (2009).</div>
<div><span class="n">6</span>Yuri Izyumov and Ernst Kurmaev, Springer Series in Ma-</div>
</div>
<div class="ref" style="left:3279px;top:894px;width:353px">
<div class="e">terials Science, 143, 57-107 (2010).</div>
<div><span class="n">7</span>N. Ni, S. Nandi, A. Kreyssig, A. I. Goldman, E. D. Mun,</div>
<div>S. L. Bud’ko, and P. C. Canfield, Phys. Rev. B 78, 014523</div>
<div class="e">(2008).</div>
<div><span class="n">8</span>Neeraj Kumar, R. Nagalakshmi, R. Kulkarni, P. L.</div>
<div>Paulose, A. K. Nigam, S. K. Dhar, and A. Thamizhavel,</div>
<div class="e">Phys. Rev. B 79, 012504 (2009).</div>
<div><span class="n">9</span>Yanpeng Qi, Lei Wang, Zhaoshun Gao, Dongliang Wang,</div>
<div>Xianping Zhang, Chunlei Wang, Chao Yao and Yanwei</div>
<div class="e">Ma, New J. Phys. 13 033020 (2011).</div>
<div><span class="n">10</span>S. Kasahara, T. Shibauchi, K. Hashimoto, Y. Nakai, H.</div>
<div>Ikeda, T. Terashima, and Y. Matsuda, Phys. Rev. B 83,</div>
</div>
<div class="c" style="left:3261px;top:80.9px;width:371px">
<div>the extreme pressure and strain sensitivity of CaFe<sub>2</sub>As<sub>2</sub></div>
<div>as a host material. Unlike Co substituted BaFe<sub>2</sub>As<sub>2</sub></div>
<div>or SrFe<sub>2</sub>As<sub>2</sub>, it is possible that the changes in lattice</div>
<div>parameter seen in Co substituted CaFe<sub>2</sub>As<sub>2</sub> play a more</div>
<div>important role in determining the phase diagram and</div>
<div>represent an additional term to the changes in band</div>
<div class="e">filling associated with Co substitution.</div>
</div>
<div class="c" style="left:3261px;top:296.3px;width:371px">
<div class="i">In summary, Ca(Fe<sub>1−<i>x</i></sub>Co<sub><i>x</i></sub>)<sub>2</sub>As<sub>2</sub> (0 ≤ <i>x</i> ≤ 0.082) have</div>
<div>been grown out of Sn flux. We report the details of</div>
<div>single crystal growth and their magnetic susceptibility</div>
<div>and electrical transport properties. The properties of</div>
<div>single crystals are dependent on the growth procedure.</div>
<div>The phase diagram of Ca(Fe<sub>1−<i>x</i></sub>Co<sub><i>x</i></sub>)<sub>2</sub>As<sub>2</sub> shows a half</div>
<div>dome like superconducting region, different from those</div>
<div>of Sr(Fe<sub>1−<i>x</i></sub>Co<sub><i>x</i></sub>)<sub>2</sub>As<sub>2</sub> and Ba(Fe<sub>1−<i>x</i></sub>Co<sub><i>x</i></sub>)<sub>2</sub>As<sub>2</sub>. The elec-</div>
<div>tron doping as well as chemical pressure probably are</div>
<div class="e">both responsible for determining the phase boundary.</div>
</div>
<div class="c" style="left:3261px;top:561.3px;width:371px">
<div class="i">This work was carried out at the Iowa State University</div>
<div>and supported by the AFOSR-MURI grant #FA9550-</div>
<div>09-1-0603 (R. H. and P. C. C.). Part of this work was</div>
<div>performed at Ames Laboratory, US DOE, under contract</div>
<div># DE-AC02-07CH 11358 (S. R., S. L. B. and P. C. C.).</div>
<div>S. L. Bud’ko also acknowledges partial support from the</div>
<div class="e">State of Iowa through Iowa State University.</div>
</div>
<div class="c" style="left:3261px;top:777.3px;width:371px">
<div class="i"><sup>*</sup>Present address: Center for Nanophysics &amp; Ad-</div>
<div>vanced Materials and Department of Physics, University</div>
<div class="e">of Maryland, College Park MD 20742-4111, USA.</div>
</div>

<!-- ===== PAGE 5 ===== -->
<div class="pn" style="left:4550px;top:41px">5</div>
<div class="ref" style="left:3808px;top:82.8px;width:352px">
<div class="e">060505(R) (2011).</div>
<div><span class="n">11</span>P. C. Canfield, S. L. Bud’ko, N. Ni, A. Kreyssig, A. I. Gold-</div>
<div>man, R. J. McQueeney, M. S. Torikachvili, D. N. Argyriou,</div>
<div class="e">G. Luke, and W. Yu, Physica C 469, 404 (2009).</div>
<div><span class="n">12</span>M. S. Torikachvili, S. L. Bud’ko, N. Ni, and P. C. Canfield,</div>
<div class="e">S. T. Hannahs, Phys. Rev. B 80, 014521 (2009).</div>
<div><span class="n">13</span>S. Ran, S. L. Bud’ko, D. K. Pratt, A. Kreyssig, M. G. Kim,</div>
<div>M. J. Kramer, D. H. Ryan, W. N. Rowan-Weetaluktuk, Y.</div>
<div>Furukawa, B. Roy, A. I. Goldman, and P. C. Canfield,</div>
<div class="e">Phys. Rev. B 83, 144517 (2011).</div>
</div>
<div class="ref" style="left:4206px;top:82.8px;width:353px">
<div class="e"><span class="n">14</span>S. Ran, (private communication).</div>
<div class="e"><span class="n">15</span>P. C. Canfield, Z. Fisk Phil. Magaz. B 65, 1117 (1992).</div>
<div><span class="n">16</span>L. Harnagea, S. Singh, G. Friemel, N. Leps, D. Bombor,</div>
<div>M. Abdel-Hafiez, A. U. B. Wolter, C. Hess, R. Klingeler,</div>
<div>G. Behr, S. Wurmehl, and B. Buchner, Phys. Rev. B 83,</div>
<div class="e">094523 (2011).</div>
<div><span class="n">17</span>Rongwei Hu, Sergey L. Bud’ko, Warren E. Straszheim,</div>
<div class="e">Paul C. Canfield, Phys. Rev. B 83, 094520 (2011).</div>
</div>
</body></html>
